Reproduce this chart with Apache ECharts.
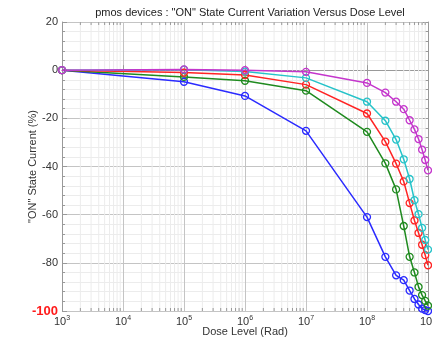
<!DOCTYPE html>
<html>
<head>
<meta charset="utf-8">
<script src="https://cdn.jsdelivr.net/npm/echarts@6/dist/echarts.min.js"></script>
<style>
  html, body { margin: 0; padding: 0; background: #fff; }
  #chart { width: 432px; height: 340px; }
</style>
</head>
<body>
<div id="chart"></div>
<script>
// dose levels (Rad) shared by all devices
const doseLevels = [1e3, 1e5, 1e6, 1e7, 1e8, 2e8, 3e8, 4e8, 5e8, 6e8, 7e8, 8e8, 9e8, 1e9];

// "ON" state current variation (%) per device
const blueDev = [0, -4.8, -10.7, -25.2, -61, -77.5, -85.2, -87.2, -91.5, -95, -97.3, -99, -99.6, -100];
const greenDev = [0, -2.8, -4.4, -8.5, -25.6, -38.7, -49.5, -64.7, -77.5, -84, -90, -93.4, -95.8, -97.8];
const redDev = [0, -1, -2, -6, -18, -29.7, -38.8, -46.2, -55.2, -62.4, -67.6, -72.5, -76.8, -81];
const cyanDev = [0, 0.2, -0.6, -3.2, -13.1, -21, -28.8, -37, -45.2, -54, -59.8, -65.5, -70.5, -74.5];
const magentaDev = [0, 0.3, 0, -0.7, -5.3, -9.3, -13.1, -16.2, -20.8, -24.6, -28.6, -33, -37.3, -41.6];

const yTicks = [20, 0, -20, -40, -60, -80, -100];
const decades = [3, 4, 5, 6, 7, 8, 9];

// minor log grid values 2..9 inside each decade
const minorDoses = [];
decades.slice(0, -1).forEach(d => {
    for (let k = 2; k <= 9; k++) minorDoses.push(k * Math.pow(10, d));
});

const devices = [
    { name: 'blue', data: blueDev, color: '#2b2bff' },
    { name: 'green', data: greenDev, color: '#1f8a1f' },
    { name: 'red', data: redDev, color: '#ff2424' },
    { name: 'cyan', data: cyanDev, color: '#26c3c9' },
    { name: 'magenta', data: magentaDev, color: '#c436cc' },
];

const Y_MIN = yTicks[yTicks.length - 1];
const Y_MAX = yTicks[0];

const chart = echarts.init(document.getElementById('chart'));

const lineSeries = devices.map(dev => ({
    name: dev.name,
    type: 'line',
    xAxisIndex: 0,
    yAxisIndex: 0,
    data: doseLevels.map((x, i) => [x, dev.data[i]]),
    symbol: 'circle',
    symbolSize: 7,
    lineStyle: { color: dev.color, width: 1.5 },
    itemStyle: { color: 'rgba(0,0,0,0)', borderColor: dev.color, borderWidth: 1.3 },
    z: 5,
    animation: false,
}));

chart.setOption({
    animation: false,
    title: {
        text: 'pmos devices : "ON" State Current Variation Versus Dose Level',
        left: 245,
        top: 2,
        textAlign: 'center',
        textStyle: { fontFamily: 'Liberation Sans, Arial', fontSize: 11, fontWeight: 'normal', color: '#222' },
    },
    grid: { left: 62, right: 4, top: 22, bottom: 29, outerBoundsMode: 'none' },
    xAxis: [
        {
            type: 'log',
            logBase: 10,
            min: 1e3,
            max: 1e9,
            name: 'Dose Level (Rad)',
            nameLocation: 'middle',
            nameGap: 15,
            nameMoveOverlap: false,
            nameTextStyle: { fontFamily: 'Liberation Sans, Arial', fontSize: 11, color: '#333' },
            axisLine: { lineStyle: { color: '#999' } },
            axisTick: { inside: true, length: 5, lineStyle: { color: '#999' } },
            splitLine: { show: true, lineStyle: { color: '#c4c4c4', width: 1 } },
            axisLabel: {
                margin: 4,
                formatter: v => '{b|10}{s|' + Math.round(Math.log10(v)) + '}',
                rich: {
                    b: { fontFamily: 'Liberation Sans, Arial', fontSize: 11, color: '#333' },
                    s: { fontFamily: 'Liberation Sans, Arial', fontSize: 7, color: '#333', verticalAlign: 'top', padding: [0, 0, 6, 0] },
                },
            },
        },
        {
            type: 'log',
            logBase: 10,
            min: 1e3,
            max: 1e9,
            position: 'top',
            axisLine: { lineStyle: { color: '#999' } },
            axisTick: { inside: true, length: 5, lineStyle: { color: '#999' } },
            axisLabel: { show: false },
            splitLine: { show: false },
        },
    ],
    yAxis: [
        {
            type: 'value',
            min: Y_MIN,
            max: Y_MAX,
            interval: 20,
            name: '"ON" State Current (%)',
            nameLocation: 'middle',
            nameGap: 24,
            nameMoveOverlap: false,
            nameTextStyle: { fontFamily: 'Liberation Sans, Arial', fontSize: 11, color: '#333' },
            axisLine: { show: true, lineStyle: { color: '#999' } },
            axisTick: { show: true, inside: true, length: 5, lineStyle: { color: '#999' } },
            minorTick: { show: true, splitNumber: 5, length: 3, lineStyle: { color: '#999' } },
            splitLine: { show: true, lineStyle: { color: '#c4c4c4' } },
            minorSplitLine: { show: true, lineStyle: { color: '#ececec' } },
            axisLabel: {
                margin: 4,
                formatter: v => (v === Y_MIN ? '{r|' + v + '}' : '{n|' + v + '}'),
                rich: {
                    n: { fontFamily: 'Liberation Sans, Arial', fontSize: 11, color: '#333' },
                    r: { fontFamily: 'Liberation Sans, Arial', fontSize: 13, fontWeight: 'bold', color: '#ff1a1a' },
                },
            },
        },
        {
            type: 'value',
            min: Y_MIN,
            max: Y_MAX,
            interval: 20,
            position: 'right',
            axisLine: { show: true, lineStyle: { color: '#999' } },
            axisTick: { show: true, inside: true, length: 5, lineStyle: { color: '#999' } },
            minorTick: { show: true, splitNumber: 5, length: 3, lineStyle: { color: '#999' } },
            axisLabel: { show: false },
            splitLine: { show: false },
        },
    ],
    series: [
        {
            // minor log grid lines plus small ticks on top and bottom edges
            type: 'custom',
            xAxisIndex: 0,
            yAxisIndex: 0,
            silent: true,
            z: 1,
            data: minorDoses.map(v => [v, 0]),
            renderItem: (params, api) => {
                const top = api.coord([api.value(0), Y_MAX]);
                const bot = api.coord([api.value(0), Y_MIN]);
                return {
                    type: 'group',
                    children: [
                        {
                            type: 'line',
                            shape: { x1: top[0], y1: top[1], x2: bot[0], y2: bot[1] },
                            style: { stroke: '#ececec', lineWidth: 1 },
                        },
                        {
                            type: 'line',
                            shape: { x1: top[0], y1: top[1], x2: top[0], y2: top[1] + 3 },
                            style: { stroke: '#999', lineWidth: 1 },
                        },
                        {
                            type: 'line',
                            shape: { x1: bot[0], y1: bot[1], x2: bot[0], y2: bot[1] - 3 },
                            style: { stroke: '#999', lineWidth: 1 },
                        },
                    ],
                };
            },
        },
        ...lineSeries,
    ],
});
</script>
</body>
</html>
